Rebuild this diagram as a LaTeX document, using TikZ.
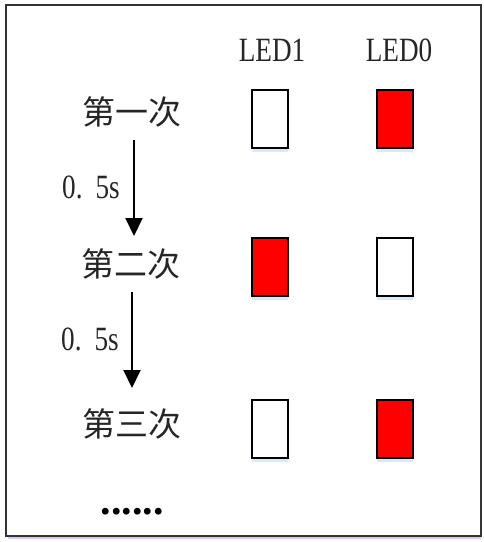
\documentclass[tikz,border=0pt]{standalone}
\usepackage{fontspec}
\setmainfont{Liberation Serif}
\newfontfamily\cjk{Noto Sans CJK SC}
\newfontfamily\latinf[FakeStretch=0.8]{Liberation Serif}
\usetikzlibrary{arrows.meta,shadows}
\tikzset{
  x=1pt, y=-1pt,
  ledbox/.style={draw=black, line width=1.8pt, minimum width=36pt, minimum height=58pt, inner sep=0pt,
    drop shadow={shadow xshift=0pt, shadow yshift=-4pt, fill=blue!50!cyan!40, opacity=0.4}},
  ledon/.style={ledbox, fill=red},
  ledoff/.style={ledbox, fill=white},
  rowlabel/.style={font=\cjk\fontsize{33}{35}\selectfont, text=black!85, inner sep=0pt},
  collabel/.style={font=\latinf\fontsize{34}{36}\selectfont, text=black!85, inner sep=0pt},
  steplabel/.style={font=\latinf\fontsize{34}{36}\selectfont, text=black!85, inner sep=0pt},
  steparrow/.style={line width=2pt, -{Triangle[width=17pt,length=18pt]}},
}
\begin{document}
\begin{tikzpicture}
\useasboundingbox (0,0) rectangle (483,542);
\fill[white] (0,0) rectangle (483,542);
% frame
\draw[blue!20, line width=2pt] (8,538) -- (481,538);
\draw[black!80, line width=2pt] (6,5) rectangle (481,536);

% column labels
\node[collabel] (led1) at (272,50) {LED1};
\node[collabel] (led0) at (399,50) {LED0};

% row labels
\node[rowlabel] (r1) at (132,112) {第一次};
\node[rowlabel] (r2) at (131,264) {第二次};
\node[rowlabel] (r3) at (132,424) {第三次};
\node[font=\fontsize{42}{44}\selectfont\bfseries, inner sep=0pt] (dots) at (132,512) {......};

% boxes
\node[ledoff] (b11) at (270,119) {};
\node[ledon]  (b10) at (395,119) {};
\node[ledon]  (b21) at (270,267) {};
\node[ledoff] (b20) at (395,267) {};
\node[ledoff] (b31) at (270,429) {};
\node[ledon]  (b30) at (395,429) {};

% arrows
\coordinate (a1s) at (134,140);
\coordinate (a1e) at (134,236);
\coordinate (a2s) at (132,292);
\coordinate (a2e) at (132,388);
\draw[steparrow] (a1s) -- (a1e);
\draw[steparrow] (a2s) -- (a2e);
\node[steplabel] (t1) at (91,187) {0.\hspace{13pt}5s};
\node[steplabel] (t2) at (90,339) {0.\hspace{13pt}5s};
\end{tikzpicture}
\end{document}
